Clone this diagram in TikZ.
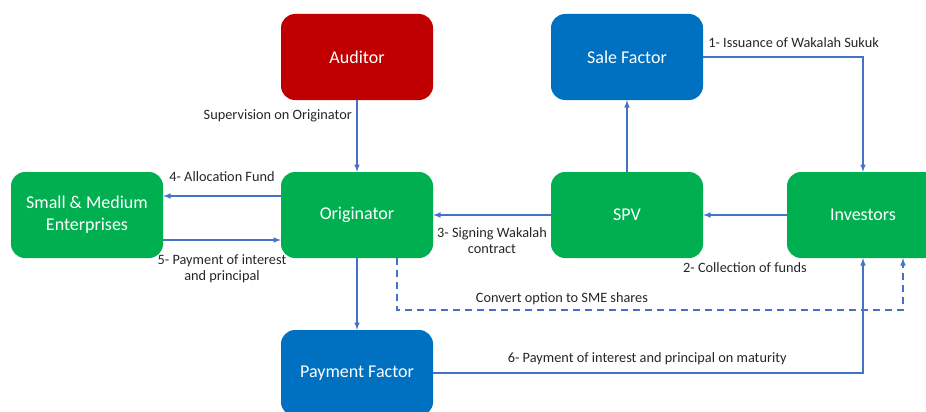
\documentclass[tikz,border=0pt]{standalone}
\usepackage{fontspec}
\setmainfont{Carlito}
\usepackage{tikz}
\usetikzlibrary{positioning}
\usetikzlibrary{arrows,shapes}
\usetikzlibrary{calc}
\definecolor{partygreen}{HTML}{00B050}
\definecolor{partyblue}{HTML}{0070C0}
\definecolor{partyred}{HTML}{C00000}
\definecolor{flowblue}{HTML}{4472C4}
\definecolor{notegray}{HTML}{262626}
\tikzstyle{party}=[rounded corners=14pt,minimum width=152pt,minimum height=86pt,inner sep=0pt,text=white,align=center,font=\fontsize{18}{22}\selectfont]
\tikzstyle{edge} = [draw,flowblue,line width=1.5pt,-latex]
\tikzstyle{optionedge} = [edge,dash pattern=on 7pt off 5pt]
\tikzstyle{weight} = [font=\fontsize{14.3}{16}\selectfont,text=notegray,align=center]

\begin{document}
\begin{tikzpicture}[x=1pt,y=-1pt]
    \useasboundingbox (0,0) rectangle (926,412);

    \foreach \pos/\name/\label/\shade in {{(357,57)/aud/Auditor/partyred}, {(627,57)/sale/Sale Factor/partyblue}, {(357,373)/pay/Payment Factor/partyblue}}
        \node[party,fill=\shade] (\name) at \pos {\label};

    \foreach \pos/\name/\label in {{(87,215)/sme/{Small \& Medium\\Enterprises}}, {(357,215)/orig/Originator}, {(627,215)/spv/SPV}, {(863,215)/inv/Investors}}
        \node[party,fill=partygreen] (\name) at \pos {\label};

    \path[edge] (aud) -- node[weight,pos=0.22,left=1pt] {Supervision on Originator} (orig);
    \path[edge] ([yshift=19pt]orig.west) -- node[weight,above=10pt] {4- Allocation Fund} ([yshift=19pt]sme.east);
    \path[edge] ([yshift=-25pt]sme.east) -- node[weight,below=11pt] {5- Payment of interest\\and principal} ([yshift=-25pt]orig.west);
    \path[edge] (spv) -- node[weight,below=8pt] {3- Signing Wakalah\\contract} (orig);
    \path[edge] (inv) -- node[weight,below=43pt] {2- Collection of funds} (spv);
    \path[edge] (spv) -- (sale);
    \path[edge] (sale) -| node[weight,pos=0,anchor=south west,xshift=1pt,yshift=5pt] {1- Issuance of Wakalah Sukuk} (inv);
    \path[edge] (orig) -- (pay);
    \path[edge] (pay) -| node[weight,pos=0.249,above=4pt] {6- Payment of interest and principal on maturity} (inv);

    % dashed conversion option back to the investors
    \path[optionedge] ([xshift=40pt]orig.south) -- ++(0,52) -| node[weight,pos=0.163,above=1pt] {Convert option to SME shares} ([xshift=40pt]inv.south);

\end{tikzpicture}
\end{document}
